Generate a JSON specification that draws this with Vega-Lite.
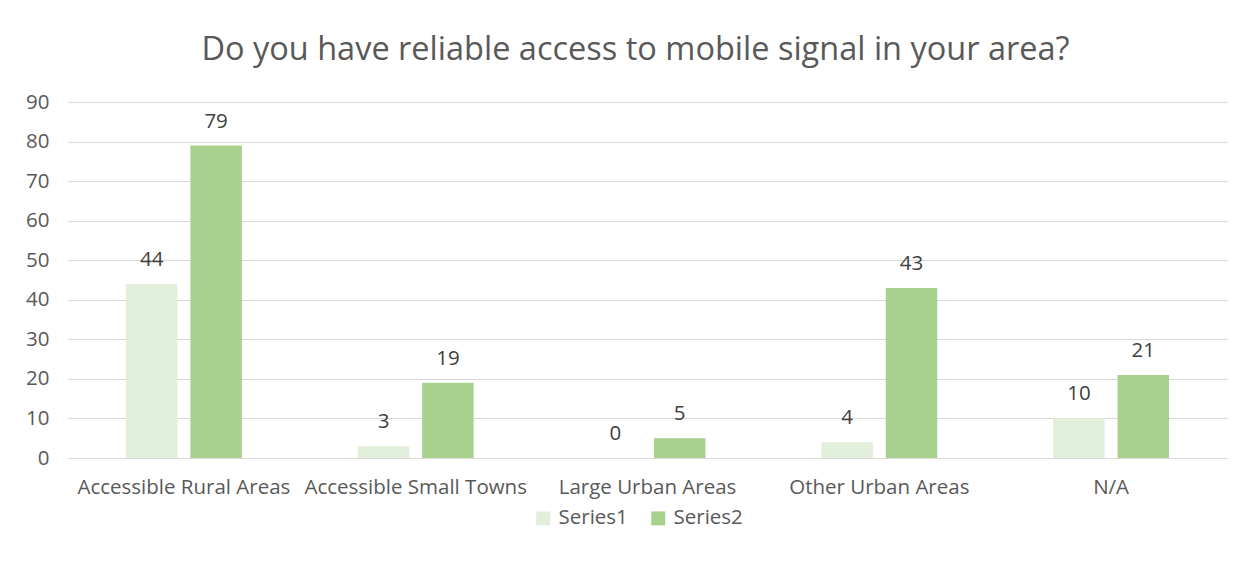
{
  "$schema": "https://vega.github.io/schema/vega-lite/v6.json",
  "autosize": "none",
  "width": 1159,
  "height": 356,
  "padding": {"left": 68, "top": 102, "right": 28, "bottom": 120},
  "background": "white",
  "title": {
    "text": "Do you have reliable access to mobile signal in your area?",
    "anchor": "middle",
    "fontSize": 32.5,
    "font": "Open Sans",
    "fontWeight": "normal",
    "color": "#595959",
    "offset": 26,
    "dx": -12
  },
  "config": {
    "view": {"stroke": null},
    "font": "Open Sans"
  },
  "data": {
    "values": [
      {"area": "Accessible Rural Areas", "series": "Series1", "value": 44},
      {"area": "Accessible Rural Areas", "series": "Series2", "value": 79},
      {"area": "Accessible Small Towns", "series": "Series1", "value": 3},
      {"area": "Accessible Small Towns", "series": "Series2", "value": 19},
      {"area": "Large Urban Areas", "series": "Series1", "value": 0},
      {"area": "Large Urban Areas", "series": "Series2", "value": 5},
      {"area": "Other Urban Areas", "series": "Series1", "value": 4},
      {"area": "Other Urban Areas", "series": "Series2", "value": 43},
      {"area": "N/A", "series": "Series1", "value": 10},
      {"area": "N/A", "series": "Series2", "value": 21}
    ]
  },
  "encoding": {
    "x": {
      "field": "area",
      "type": "nominal",
      "sort": null,
      "scale": {"paddingInner": 0.5, "paddingOuter": 0.25},
      "axis": {
        "title": null,
        "labelAngle": 0,
        "labelFontSize": 20.5,
        "labelColor": "#595959",
        "labelPadding": 19,
        "labelLimit": 0,
        "ticks": false,
        "domainColor": "#D9D9D9",
        "domainWidth": 1,
        "labelFont": "Open Sans"
      }
    },
    "xOffset": {
      "field": "series",
      "type": "nominal",
      "scale": {"paddingInner": 0.2, "paddingOuter": 0}
    },
    "y": {
      "field": "value",
      "type": "quantitative",
      "scale": {"domain": [0, 90], "nice": false},
      "axis": {
        "title": null,
        "values": [0, 10, 20, 30, 40, 50, 60, 70, 80, 90],
        "labelFontSize": 20.5,
        "labelColor": "#595959",
        "labelPadding": 19,
        "ticks": false,
        "domain": false,
        "gridColor": "#D9D9D9",
        "labelFont": "Open Sans"
      }
    }
  },
  "layer": [
    {
      "mark": {"type": "bar"},
      "encoding": {
        "color": {
          "field": "series",
          "type": "nominal",
          "scale": {"domain": ["Series1", "Series2"], "range": ["#E2EFDA", "#A9D18E"]},
          "legend": {
            "title": null,
            "orient": "none",
            "direction": "horizontal",
            "legendX": 465,
            "legendY": 406,
            "symbolType": "square",
            "symbolSize": 196,
            "labelFontSize": 20.5,
            "labelColor": "#595959",
            "labelOffset": 5,
            "columnPadding": 20,
            "labelFont": "Open Sans"
          }
        }
      }
    },
    {
      "mark": {"type": "text", "dy": -14, "fontSize": 20.5, "color": "#404040", "baseline": "bottom", "font": "Open Sans"},
      "encoding": {
        "text": {"field": "value", "type": "quantitative"}
      }
    }
  ]
}
